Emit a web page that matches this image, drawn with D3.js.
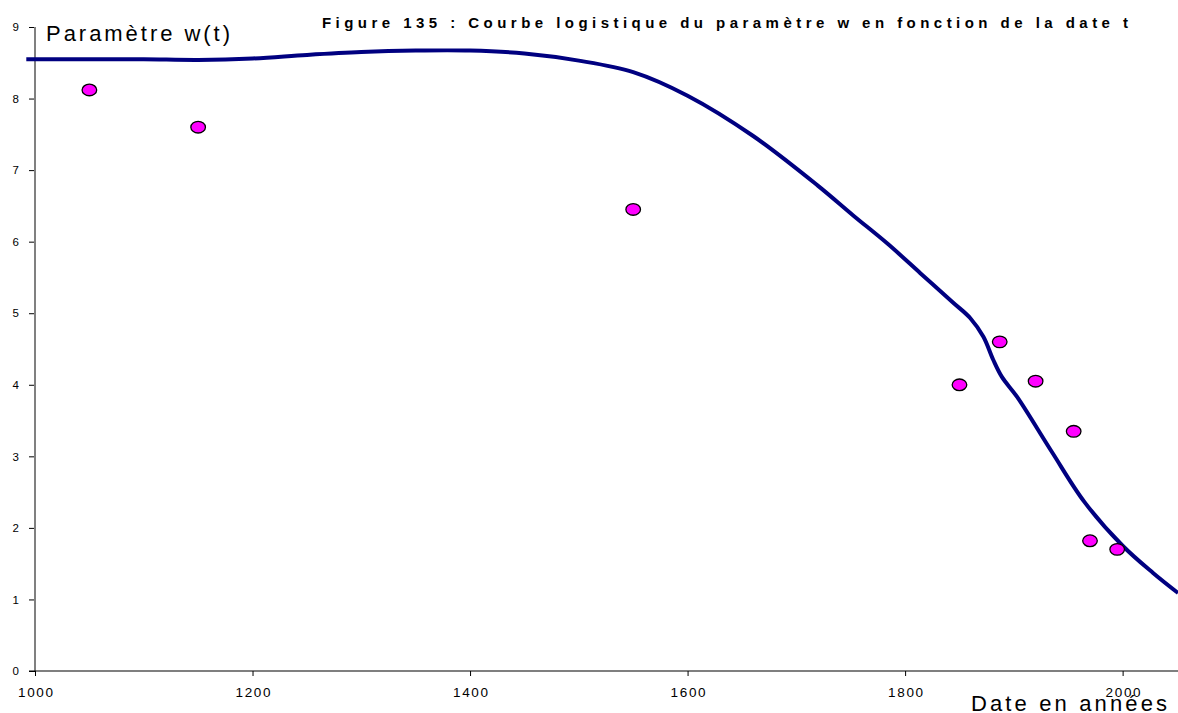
<!DOCTYPE html>
<html>
<head>
<meta charset="utf-8">
<script src="https://cdn.jsdelivr.net/npm/d3@7"></script>
<style>
  html, body { margin: 0; padding: 0; background: #ffffff; }
  svg { display: block; }
  text { font-family: "Liberation Sans", Arial, sans-serif; }
</style>
</head>
<body>
<svg id="chart" width="1178" height="713"></svg>
<script>
// Observed values of the parameter w by date
const obsYears = [1050, 1150, 1550, 1850, 1887, 1920, 1955, 1970, 1995];
const obsValues = [8.12, 7.6, 6.45, 4.0, 4.6, 4.05, 3.35, 1.82, 1.7];

// Fitted logistic curve
const curveYears = [992, 1050, 1100, 1150, 1200, 1250, 1300, 1350, 1400, 1450, 1500, 1550, 1600, 1660, 1720, 1752, 1784, 1814, 1844, 1860, 1872, 1881, 1889, 1903, 1935, 1965, 2000, 2028, 2051];
const curveValues = [8.55, 8.55, 8.55, 8.54, 8.56, 8.61, 8.65, 8.67, 8.67, 8.63, 8.53, 8.37, 8.04, 7.48, 6.78, 6.37, 5.97, 5.56, 5.15, 4.93, 4.67, 4.35, 4.11, 3.83, 3.06, 2.36, 1.75, 1.37, 1.09];

// Axis ticks
const xTicks = [1000, 1200, 1400, 1600, 1800, 2000];
const yTicks = [0, 1, 2, 3, 4, 5, 6, 7, 8, 9];

const titleText = "Figure 135 : Courbe logistique du paramètre w en fonction de la date t";
const yTitle = "Paramètre w(t)";
const xTitle = "Date en années";

const svg = d3.select("#chart");

const x = d3.scaleLinear().domain([1000, 2050]).range([35, 1177]);
const y = d3.scaleLinear().domain([0, 9]).range([671, 27]);

const font = "'Liberation Sans', Arial, sans-serif";

// Y axis (grey line, black ticks)
const yAxis = svg.append("g").attr("transform", `translate(${x(1000)},0)`)
  .call(d3.axisLeft(y).tickValues(yTicks).tickSize(6).tickPadding(10).tickFormat(d3.format("d")));
yAxis.select(".domain").remove();
yAxis.selectAll(".tick line").attr("stroke", "#000").attr("stroke-width", 1);
yAxis.selectAll(".tick text").attr("font-size", 11.5).attr("fill", "#000").style("font-family", font);

svg.append("line")
  .attr("x1", x(1000)).attr("x2", x(1000))
  .attr("y1", y(9)).attr("y2", y(0))
  .attr("stroke", "#808080").attr("stroke-width", 2);

// X axis
const xAxis = svg.append("g").attr("transform", `translate(0,${y(0)})`)
  .call(d3.axisBottom(x).tickValues(xTicks).tickSize(5).tickPadding(11).tickFormat(d3.format("d")));
xAxis.select(".domain").remove();
xAxis.selectAll(".tick line").attr("stroke", "#000").attr("stroke-width", 1);
xAxis.selectAll(".tick text")
  .attr("font-size", 13.5).attr("fill", "#000").style("font-family", font)
  .attr("textLength", 35).attr("lengthAdjust", "spacing");

svg.append("line")
  .attr("x1", x(1000) - 6).attr("x2", 1178)
  .attr("y1", y(0)).attr("y2", y(0))
  .attr("stroke", "#000").attr("stroke-width", 1.2);

// Logistic curve
const curveData = curveYears.map((yr, i) => [yr, curveValues[i]]);
const line = d3.line()
  .x(d => x(d[0]))
  .y(d => y(d[1]))
  .curve(d3.curveCatmullRom.alpha(0.5));

svg.append("path")
  .datum(curveData)
  .attr("d", line)
  .attr("fill", "none")
  .attr("stroke", "#000080")
  .attr("stroke-width", 4)
  .attr("stroke-linejoin", "round");

// Observation markers
svg.append("g").selectAll("ellipse")
  .data(obsYears.map((yr, i) => [yr, obsValues[i]]))
  .join("ellipse")
  .attr("cx", d => x(d[0]))
  .attr("cy", d => y(d[1]))
  .attr("rx", 7.3)
  .attr("ry", 5.8)
  .attr("fill", "#ff00ff")
  .attr("stroke", "#000")
  .attr("stroke-width", 1.3);

// Titles
svg.append("text")
  .attr("x", 322).attr("y", 28)
  .attr("font-size", 15).attr("font-weight", "bold")
  .attr("textLength", 806).attr("lengthAdjust", "spacing")
  .text(titleText);

svg.append("text")
  .attr("x", 46).attr("y", 41)
  .attr("font-size", 22)
  .attr("textLength", 184).attr("lengthAdjust", "spacing")
  .text(yTitle);

svg.append("text")
  .attr("x", 971).attr("y", 711)
  .attr("font-size", 22)
  .attr("textLength", 196).attr("lengthAdjust", "spacing")
  .text(xTitle);
</script>
</body>
</html>
